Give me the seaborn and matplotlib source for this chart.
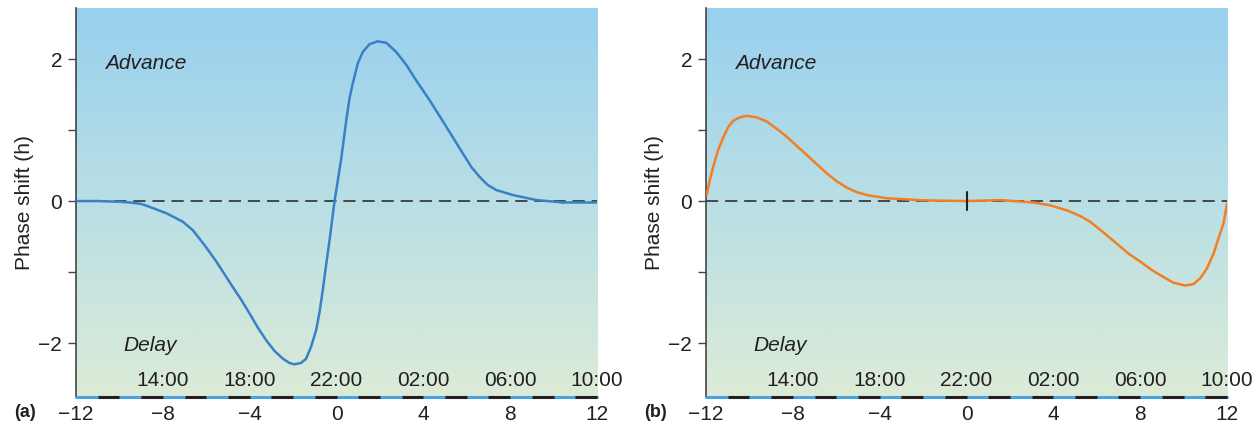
import numpy as np
import pandas as pd
import seaborn as sns
import matplotlib.pyplot as plt
from matplotlib.colors import LinearSegmentedColormap

# phase response curve values
hours_a = [-12, -11, -10, -9.5, -9, -8.62, -7.85, -7.08, -6.62, -6.08, -5.54, -5.16,
           -4.78, -4.39, -4.01, -3.63, -3.24, -2.86, -2.47, -2.17, -1.94, -1.63, -1.40,
           -1.17, -0.94, -0.78, -0.63, -0.48, -0.32, -0.09, 0.21, 0.45, 0.60, 0.75, 0.98,
           1.21, 1.52, 1.89, 2.29, 2.75, 3.21, 3.67, 4.29, 5.05, 5.82, 6.21, 6.59, 6.97,
           7.36, 8.12, 9.2, 10.4, 12]
shift_a = [0.0, 0.0, -0.01, -0.02, -0.04, -0.08, -0.17, -0.29, -0.41, -0.62, -0.85, -1.03,
           -1.21, -1.39, -1.58, -1.78, -1.96, -2.11, -2.22, -2.28, -2.30, -2.28, -2.22,
           -2.05, -1.82, -1.56, -1.25, -0.90, -0.55, 0.0, 0.58, 1.14, 1.45, 1.66, 1.94,
           2.10, 2.21, 2.25, 2.23, 2.10, 1.92, 1.70, 1.42, 1.05, 0.67, 0.48, 0.34, 0.225,
           0.155, 0.085, 0.015, -0.02, -0.02]

hours_b = [-11.97, -11.82, -11.67, -11.44, -11.2, -10.98, -10.75, -10.44, -10.15, -9.67,
           -9.2, -8.75, -8.29, -7.83, -7.36, -6.90, -6.44, -5.98, -5.52, -5.06, -4.6,
           -3.68, -2, 0, 1.54, 3.08, 3.85, 4.62, 5.23, 5.69, 6.30, 6.92, 7.46, 7.99,
           8.53, 9.07, 9.53, 10.07, 10.45, 10.76, 11.07, 11.38, 11.60, 11.84, 12.0]
shift_b = [0.08, 0.30, 0.48, 0.72, 0.90, 1.04, 1.13, 1.18, 1.20, 1.18,
           1.12, 1.02, 0.91, 0.78, 0.65, 0.52, 0.39, 0.28, 0.19, 0.127, 0.085,
           0.04, 0.01, 0.0, 0.014, -0.02, -0.06, -0.13, -0.21, -0.29, -0.44, -0.60, -0.74, -0.85,
           -0.97, -1.07, -1.15, -1.19, -1.17, -1.09, -0.95, -0.74, -0.53, -0.31, -0.03]

x_ticks = [-12, -8, -4, 0, 4, 8, 12]
x_tick_labels = ['\u221212', '\u22128', '\u22124', '0', '4', '8', '12']
clock_pos = [-8, -4, 0, 4, 8, 12]
clock_labels = ['14:00', '18:00', '22:00', '02:00', '06:00', '10:00']
y_ticks = [-2, -1, 0, 1, 2]
y_tick_labels = ['\u22122', '', '0', '', '2']

sns.set_style('ticks')
plt.rcParams['font.family'] = ['Liberation Sans', 'DejaVu Sans']

ink = '#231f20'
fs = 15
bg = LinearSegmentedColormap.from_list('bg', ['#dcebd7', '#b9dfe5', '#98d0ee'])
ylo, yhi = -2.76, 2.72

fig = plt.figure(figsize=(12.58, 4.28), dpi=100)
ax_a = fig.add_axes([0.0604, 0.0724, 0.4142, 0.909])
ax_b = fig.add_axes([0.5612, 0.0724, 0.4142, 0.909])

panels = [(ax_a, hours_a, shift_a, '#3a80c8', '(a)'),
          (ax_b, hours_b, shift_b, '#f27f22', '(b)')]

for ax, xs, ys, col, tag in panels:
    ax.set_xlim(-12, 12)
    ax.set_ylim(ylo, yhi)
    grad = np.linspace(0, 1, 256).reshape(-1, 1)
    ax.imshow(grad, extent=[-12, 12, ylo, yhi], origin='lower', aspect='auto',
              cmap=bg, zorder=0)

    ax.axhline(0, color=ink, lw=1.1, ls=(0, (8, 4.5)), zorder=2)
    df = pd.DataFrame({'hour': xs, 'shift': ys})
    sns.lineplot(data=df, x='hour', y='shift', ax=ax, color=col, lw=1.8,
                 sort=False, zorder=3)

    # light/dark bar along the bottom
    ax.axhline(ylo, color='#4aa3df', lw=2.2, clip_on=False, zorder=4)
    starts = np.arange(-11, 12, 2)
    ax.hlines([ylo] * len(starts), starts, starts + 1, color=ink, lw=2.2,
              clip_on=False, zorder=5)

    for s in ['top', 'right', 'bottom']:
        ax.spines[s].set_visible(False)
    ax.spines['left'].set_color('#444444')
    ax.spines['left'].set_linewidth(1.2)

    ax.set_yticks(y_ticks)
    ax.set_yticklabels(y_tick_labels)
    ax.set_xticks(x_ticks)
    ax.set_xticklabels(x_tick_labels)
    ax.tick_params(axis='y', direction='out', length=6, width=1, color='#444444',
                   labelsize=fs, labelcolor=ink, pad=4)
    ax.tick_params(axis='x', length=0, labelsize=fs, labelcolor=ink, pad=6)
    ax.set_xlabel('')
    ax.set_ylabel('Phase shift (h)', fontsize=fs, color=ink)
    ax.yaxis.set_label_coords(-0.08, 0.5)

    ax.text(-10.65, 1.94, 'Advance', style='italic', fontsize=fs, color=ink,
            va='center', ha='left')
    ax.text(-9.8, -2.03, 'Delay', style='italic', fontsize=fs, color=ink,
            va='center', ha='left')
    for p, lab in zip(clock_pos, clock_labels):
        ax.text(p, -2.53, lab, fontsize=fs, color=ink, ha='center', va='center',
                clip_on=False)
    ax.text(-0.119, -0.04, tag, transform=ax.transAxes, fontsize=13,
            fontweight='bold', color=ink, ha='left', va='center')

# small marker at the origin of panel (b)
ax_b.plot([0, 0], [-0.13, 0.13], color=ink, lw=1.5, zorder=4)

fig.savefig('out.png', dpi=100)
